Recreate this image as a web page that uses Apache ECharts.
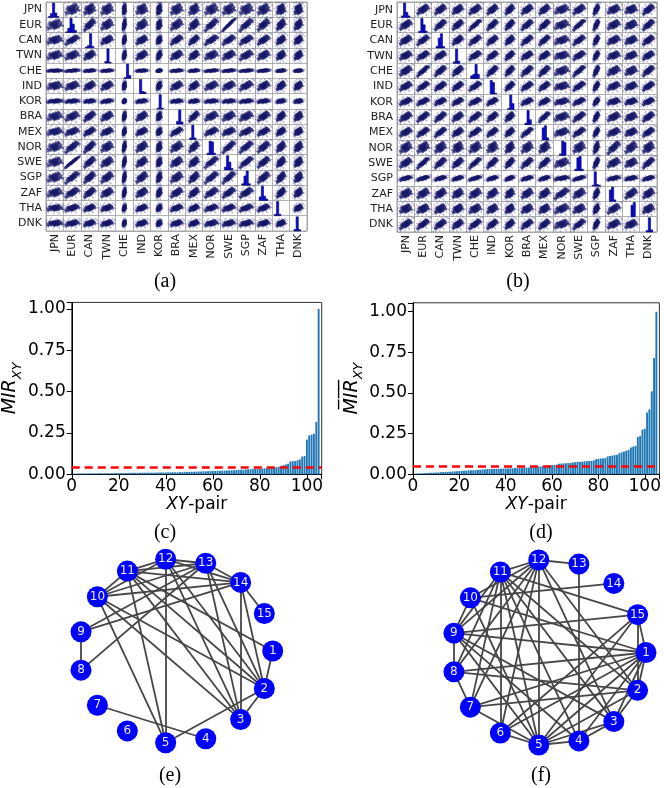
<!DOCTYPE html>
<html>
<head>
<meta charset="utf-8">
<script src="https://cdn.jsdelivr.net/npm/echarts@6/dist/echarts.min.js"></script>
<style>
  html, body { margin: 0; padding: 0; background: #fff; }
  #main { width: 664px; height: 788px; }
</style>
</head>
<body>
<div id="main"></div>
<script>
//1.数据
const countries = ['JPN', 'EUR', 'CAN', 'TWN', 'CHE', 'IND', 'KOR', 'BRA', 'MEX', 'NOR', 'SWE', 'SGP', 'ZAF', 'THA', 'DNK'];

// (a)(b) 每个变量的散布宽度 (单元格比例)
const spreadA = [0.23, 0.21, 0.17, 0.18, 0.045, 0.17, 0.07, 0.18, 0.15, 0.2, 0.19, 0.2, 0.18, 0.13, 0.12];
const spreadB = [0.18, 0.18, 0.17, 0.16, 0.18, 0.16, 0.13, 0.17, 0.16, 0.22, 0.18, 0.08, 0.19, 0.18, 0.17];

// 相关系数 (下三角, corr[r][c], c < r)
const corrA = [
  [],
  [0.1],
  [0.1, 0.55],
  [0.1, 0.2, 0.3],
  [0.0, 0.3, 0.2, 0.2],
  [0.0, 0.2, 0.3, 0.3, 0.1],
  [0.1, 0.1, 0.1, 0.3, 0.1, 0.2],
  [0.1, 0.3, 0.5, 0.3, 0.2, 0.3, 0.1],
  [0.1, 0.3, 0.5, 0.3, 0.2, 0.3, 0.1, 0.55],
  [0.1, 0.65, 0.6, 0.2, 0.3, 0.3, 0.1, 0.3, 0.4],
  [0.1, 0.98, 0.55, 0.3, 0.35, 0.3, 0.1, 0.3, 0.3, 0.7],
  [0.1, 0.7, 0.5, 0.4, 0.3, 0.4, 0.2, 0.3, 0.4, 0.65, 0.7],
  [0.1, 0.5, 0.5, 0.3, 0.3, 0.3, 0.2, 0.4, 0.4, 0.5, 0.55, 0.5],
  [0.0, 0.3, 0.3, 0.2, 0.2, 0.3, 0.2, 0.3, 0.3, 0.3, 0.3, 0.4, 0.4],
  [0.0, 0.2, 0.2, 0.2, 0.1, 0.2, 0.1, 0.2, 0.2, 0.2, 0.2, 0.2, 0.2, 0.2]
];
const corrB = [
  [],
  [0.4],
  [0.4, 0.6],
  [0.3, 0.5, 0.4],
  [0.4, 0.85, 0.6, 0.5],
  [0.4, 0.6, 0.5, 0.5, 0.6],
  [0.4, 0.5, 0.4, 0.5, 0.5, 0.5],
  [0.4, 0.6, 0.6, 0.4, 0.6, 0.5, 0.4],
  [0.4, 0.6, 0.65, 0.4, 0.6, 0.5, 0.4, 0.75],
  [0.2, 0.2, 0.2, 0.1, 0.2, 0.1, 0.2, 0.2, 0.2],
  [0.4, 0.85, 0.6, 0.5, 0.8, 0.6, 0.5, 0.6, 0.6, 0.2],
  [0.5, 0.6, 0.5, 0.5, 0.6, 0.5, 0.5, 0.5, 0.5, 0.3, 0.6],
  [0.2, 0.3, 0.3, 0.2, 0.3, 0.3, 0.2, 0.3, 0.3, 0.6, 0.3, 0.4],
  [0.1, 0.2, 0.2, 0.2, 0.2, 0.2, 0.2, 0.2, 0.2, 0.3, 0.2, 0.3, 0.4],
  [0.5, 0.6, 0.5, 0.4, 0.6, 0.5, 0.4, 0.5, 0.5, 0.2, 0.65, 0.5, 0.3, 0.2]
];

// 对角线直方图 (8 个 bin, 相对高度)
const histA = [
  [0, 0.05, 0.25, 1.0, 0.3, 0.05, 0, 0],
  [0, 0.05, 0.3, 1.0, 0.6, 0.15, 0, 0],
  [0, 0, 0.05, 0.15, 1.0, 0.1, 0, 0],
  [0, 0, 0, 0.1, 1.0, 0.05, 0, 0],
  [0, 0, 0, 0, 0.05, 1.0, 0.2, 0],
  [0, 0, 0, 1.0, 0.15, 0.1, 0, 0],
  [0, 0, 0, 0.05, 1.0, 0.05, 0, 0],
  [0, 0, 0, 0, 0.2, 1.0, 0.15, 0],
  [0, 0, 0.1, 1.0, 0.1, 0, 0, 0],
  [0, 0, 0.1, 0.95, 0.9, 0.1, 0, 0],
  [0, 0, 0.2, 1.0, 0.55, 0.1, 0, 0],
  [0, 0, 0.1, 0.65, 1.0, 0.1, 0, 0],
  [0, 0, 0.25, 1.0, 0.3, 0.1, 0, 0],
  [0, 0.1, 1.0, 0.1, 0, 0, 0, 0],
  [0, 0, 0.1, 1.0, 0.1, 0, 0, 0]
];
const histB = [
  [0, 0, 0.1, 1.0, 0.35, 0.1, 0, 0],
  [0, 0, 0.1, 1.0, 0.55, 0.1, 0, 0],
  [0, 0, 0.1, 0.7, 1.0, 0.1, 0, 0],
  [0, 0, 0.1, 1.0, 0.15, 0, 0, 0],
  [0, 0, 0.2, 0.3, 1.0, 0.3, 0, 0],
  [0, 0, 0, 0.95, 0.8, 0.05, 0, 0],
  [0, 0, 0, 0.05, 1.0, 0.4, 0, 0],
  [0, 0, 0, 0.1, 1.0, 0.35, 0, 0],
  [0, 0, 0, 0.85, 1.0, 0.15, 0, 0],
  [0, 0, 0, 0.1, 1.0, 0.9, 0, 0],
  [0, 0, 0.1, 0.9, 1.0, 0.1, 0, 0],
  [0, 0, 0.05, 1.0, 0.1, 0.05, 0, 0],
  [0, 0, 0.8, 1.0, 0.1, 0, 0, 0],
  [0, 0, 0, 0, 0.8, 1.0, 0, 0],
  [0, 0, 0, 0.1, 1.0, 0.15, 0, 0]
];

// 单元格内点云模板 (标准化坐标), 前 48 个为核心点, 后 16 个为外围点
const cloud = [
  [0.12, -0.35], [-0.48, 0.22], [0.83, 0.41], [-1.12, -0.27], [0.35, 0.91], [-0.21, -0.88], [1.34, -0.15], [-0.67, 0.64],
  [0.05, 0.07], [0.58, -0.62], [-0.92, -1.05], [0.27, 1.38], [-1.45, 0.33], [1.02, 0.86], [-0.33, -0.41], [0.71, 0.18],
  [-0.08, -1.27], [1.63, 0.52], [-0.76, -0.14], [0.44, -1.02], [-1.21, 0.95], [0.19, 0.49], [-0.55, -0.69], [0.96, -0.84],
  [-0.14, 0.31], [1.18, 1.21], [-1.8, -0.58], [0.63, -0.29], [-0.39, 1.07], [0.31, -0.18], [-0.99, 0.12], [1.9, -0.44],
  [-0.26, 0.68], [0.87, 1.56], [-1.58, -1.22], [0.02, -0.57], [1.47, 0.11], [-0.64, 0.39], [0.39, 0.72], [-0.17, -0.06],
  [0.52, 0.04], [-0.41, -0.12], [0.15, -0.78], [-0.86, 0.51], [1.11, -0.48], [-0.02, 0.95], [0.74, 1.02], [-1.29, -0.74],
  [2.3, 1.7], [-2.2, 0.8], [0.9, -2.1], [-1.1, 2.2], [2.7, -0.6], [-2.5, -1.5], [0.4, 2.6], [-0.3, -2.5],
  [1.8, 2.3], [-2.8, 0.2], [2.0, -1.5], [-1.6, -2.2], [2.9, 1.0], [-2.0, 1.9], [1.2, -2.7], [-0.8, 2.8]
];

// (c)(d) 排序后的 MIR 值
const mirC = [
  0.003, 0.003, 0.004, 0.004, 0.004, 0.005, 0.005, 0.005, 0.005, 0.005,
  0.005, 0.006, 0.006, 0.006, 0.006, 0.006, 0.006, 0.007, 0.007, 0.007,
  0.007, 0.007, 0.008, 0.008, 0.009, 0.009, 0.009, 0.009, 0.009, 0.010,
  0.010, 0.010, 0.010, 0.010, 0.010, 0.011, 0.011, 0.011, 0.011, 0.011,
  0.012, 0.012, 0.012, 0.012, 0.012, 0.013, 0.013, 0.014, 0.014, 0.015,
  0.015, 0.016, 0.016, 0.017, 0.017, 0.018, 0.018, 0.019, 0.019, 0.020,
  0.020, 0.021, 0.021, 0.022, 0.022, 0.023, 0.024, 0.025, 0.025, 0.026,
  0.027, 0.028, 0.028, 0.029, 0.030, 0.031, 0.032, 0.033, 0.033, 0.034,
  0.035, 0.036, 0.037, 0.038, 0.040, 0.041, 0.043, 0.045, 0.050, 0.055,
  0.060, 0.064, 0.078, 0.079, 0.080, 0.085, 0.090, 0.107, 0.110, 0.210,
  0.235, 0.240, 0.245, 0.317, 1.000
];
const mirD = [
  0.003, 0.004, 0.005, 0.006, 0.007, 0.008, 0.009, 0.010, 0.010, 0.011,
  0.012, 0.013, 0.014, 0.014, 0.015, 0.016, 0.017, 0.018, 0.019, 0.020,
  0.021, 0.022, 0.023, 0.024, 0.025, 0.025, 0.026, 0.027, 0.028, 0.030,
  0.031, 0.032, 0.032, 0.033, 0.033, 0.034, 0.034, 0.035, 0.035, 0.036,
  0.036, 0.037, 0.037, 0.038, 0.038, 0.039, 0.040, 0.041, 0.041, 0.042,
  0.045, 0.046, 0.046, 0.047, 0.048, 0.050, 0.052, 0.053, 0.055, 0.056,
  0.057, 0.060, 0.065, 0.066, 0.067, 0.068, 0.069, 0.070, 0.072, 0.075,
  0.076, 0.077, 0.078, 0.080, 0.081, 0.082, 0.083, 0.085, 0.093, 0.095,
  0.097, 0.098, 0.100, 0.110, 0.113, 0.115, 0.118, 0.120, 0.130, 0.135,
  0.140, 0.145, 0.150, 0.165, 0.170, 0.175, 0.230, 0.235, 0.275, 0.280,
  0.380, 0.400, 0.510, 0.715, 1.000
];
const thresholdC = 0.036;
const thresholdD = 0.047;

// (e)(f) 网络
const nodeLabels = ['1', '2', '3', '4', '5', '6', '7', '8', '9', '10', '11', '12', '13', '14', '15'];
const edgesE = [
  [12, 13], [11, 12], [5, 12], [10, 12], [2, 12], [3, 12], [12, 14],
  [11, 13], [10, 13], [9, 13], [8, 13], [13, 14], [2, 13], [3, 13],
  [11, 14], [10, 11], [5, 11], [2, 11], [3, 11], [1, 11],
  [10, 14], [5, 10], [2, 10], [3, 10],
  [9, 14], [8, 9], [2, 14], [14, 15], [3, 14],
  [4, 7], [2, 5], [2, 3], [1, 2]
];
const edgesF = [
  [12, 13], [11, 12], [5, 12], [9, 12], [8, 12], [7, 12], [6, 12], [10, 12], [2, 12], [3, 12],
  [4, 13], [10, 14],
  [11, 15], [9, 15], [1, 15], [2, 15], [5, 15], [6, 15],
  [1, 9], [1, 7], [1, 6], [1, 5], [1, 4], [1, 3], [1, 2], [1, 10], [1, 8],
  [2, 8], [2, 7], [2, 5], [2, 3], [2, 11],
  [3, 4], [3, 5], [3, 9], [3, 11],
  [4, 5], [4, 11], [4, 9],
  [5, 6], [5, 7], [5, 9], [5, 10], [5, 11],
  [6, 11], [7, 8], [7, 11], [8, 9], [8, 11], [9, 10], [9, 11]
];

//2.生成散点矩阵的点
function matrixPoints(spread, corr, core) {
  const pts = [];
  const clamp = (v, lo) => Math.min(lo + 0.96, Math.max(lo + 0.04, v));
  const part = core ? cloud.slice(0, 48) : cloud.slice(48);
  for (let r = 0; r < 15; r++) {
    for (let c = 0; c < 15; c++) {
      if (r === c) continue;
      const rho = r > c ? corr[r][c] : corr[c][r];
      const s = Math.sqrt(1 - rho * rho);
      part.forEach(([u, v]) => {
        pts.push([
          clamp(c + 0.5 + spread[c] * u, c),
          clamp(r + 0.5 - spread[r] * (rho * u + s * v), r)
        ]);
      });
    }
  }
  return pts;
}

function histItems(hist) {
  const items = [];
  hist.forEach((bins, k) => bins.forEach((h, b) => { if (h > 0) items.push([k, b, h]); }));
  return items;
}

function renderHist(params, api) {
  const k = api.value(0), b = api.value(1), h = api.value(2);
  const nb = 8;
  const p0 = api.coord([k + b / nb, k + 1]);
  const p1 = api.coord([k + (b + 1) / nb, k + 1 - 0.93 * h]);
  return {
    type: 'rect',
    shape: { x: p0[0], y: p1[1], width: p1[0] - p0[0], height: p0[1] - p1[1] },
    style: { fill: '#0a0af0', stroke: '#000050', lineWidth: 0.6 }
  };
}

function circleNodes() {
  return nodeLabels.map((n, i) => ({
    name: n,
    value: [Math.cos(2 * Math.PI * i / nodeLabels.length), Math.sin(2 * Math.PI * i / nodeLabels.length)]
  }));
}

//3.坐标轴
const gridLine = '#a0a0a0';
function cellAxes(gridIndex) {
  const base = {
    type: 'value', gridIndex, min: 0, max: 15, interval: 1,
    axisLine: { show: false }, axisTick: { show: false }, axisLabel: { show: false },
    splitLine: { show: true, lineStyle: { color: gridLine, width: 0.8 } }
  };
  return {
    x: [base, {
      type: 'category', gridIndex, data: countries, position: 'bottom',
      axisLine: { show: false }, axisTick: { show: false }, splitLine: { show: false },
      axisLabel: { rotate: 90, interval: 0, fontSize: 11, color: '#222', margin: 3 }
    }],
    y: [Object.assign({}, base, { inverse: true, position: 'left' }), {
      type: 'category', gridIndex, data: countries, inverse: true, position: 'left',
      axisLine: { show: false }, axisTick: { show: false }, splitLine: { show: false },
      axisLabel: { interval: 0, fontSize: 11, color: '#222', margin: 4 }
    }]
  };
}

const tickFont = { fontSize: 17, color: '#000', fontFamily: 'DejaVu Sans' };
function barAxes(gridIndex, ymax, gap) {
  return {
    x: {
      type: 'value', gridIndex, min: 0, max: 106.3, interval: 20,
      axisLine: { lineStyle: { color: '#000', width: 1 } },
      axisTick: { length: 5, lineStyle: { color: '#000' } },
      axisLabel: Object.assign({ margin: 4, formatter: v => (v % 20 === 0 ? String(v) : '') }, tickFont),
      splitLine: { show: false },
      name: '{i|XY}-pair', nameLocation: 'middle', nameGap: 22,
      nameTextStyle: { fontSize: 17, color: '#000', rich: { i: { fontSize: 17, fontStyle: 'italic', color: '#000' } } }
    },
    y: {
      type: 'value', gridIndex, min: 0, max: ymax, interval: 0.25,
      axisLine: { show: true, lineStyle: { color: '#000', width: 1 } },
      axisTick: { show: true, length: 5, lineStyle: { color: '#000' } },
      axisLabel: Object.assign({ margin: 6, formatter: v => (Math.abs(v * 4 - Math.round(v * 4)) < 1e-6 ? v.toFixed(2) : '') }, tickFont),
      splitLine: { show: false },
      name: '{m|M\u0305I\u0305R\u0305}{s|XY}', nameLocation: 'middle', nameGap: gap, nameRotate: 90,
      nameTextStyle: {
        color: '#000',
        rich: {
          m: { fontSize: 19, fontStyle: 'italic', color: '#000', lineHeight: 24, verticalAlign: 'bottom' },
          s: { fontSize: 13, fontStyle: 'italic', color: '#000', lineHeight: 24, verticalAlign: 'bottom', padding: [0, 0, -4, 0] }
        }
      }
    }
  };
}

function hiddenAxis(gridIndex, inverse) {
  return { type: 'value', gridIndex, min: -1.1, max: 1.1, show: false, inverse: !!inverse };
}

const axA = cellAxes(0), axB = cellAxes(1);
const axC = barAxes(2, 1.04, 40), axD = barAxes(3, 1.055, 47);

function scatterSeries(idx, spread, corr, core) {
  return {
    type: 'scatter', xAxisIndex: idx, yAxisIndex: idx, data: matrixPoints(spread, corr, core),
    symbolSize: core ? 2.8 : 1.7, silent: true,
    itemStyle: { color: core ? 'rgba(24,24,105,0.8)' : 'rgba(60,60,150,0.45)' }
  };
}

function barSeries(idx, values, threshold) {
  return {
    type: 'bar', xAxisIndex: idx, yAxisIndex: idx,
    data: values.map((v, i) => [i + 1, v]),
    barWidth: 1.9,
    itemStyle: { color: '#1f77b4' },
    markLine: {
      silent: true, symbol: 'none', label: { show: false },
      lineStyle: { color: '#ff0000', width: 2.5, type: [8, 5] },
      data: [{ yAxis: threshold }]
    }
  };
}

function graphSeries(idx, edges) {
  return {
    type: 'graph', coordinateSystem: 'cartesian2d', xAxisIndex: idx, yAxisIndex: idx,
    layout: 'none', symbolSize: 21,
    data: circleNodes(),
    links: edges.map(([s, t]) => ({ source: String(s), target: String(t) })),
    itemStyle: { color: '#0000ff' },
    label: { show: true, position: 'inside', color: '#ececff', fontSize: 12, fontFamily: 'DejaVu Sans' },
    lineStyle: { color: '#464646', width: 1.8, opacity: 1, curveness: 0 },
    emphasis: { disabled: true }
  };
}

function caption(text, x, y) {
  return {
    type: 'text', x, y,
    style: { text, fontSize: 20, fontFamily: 'Liberation Serif', fill: '#000', align: 'center', verticalAlign: 'middle' }
  };
}

//4.渲染
const chart = echarts.init(document.getElementById('main'));
const option = {
  animation: false,
  backgroundColor: '#fff',
  textStyle: { fontFamily: 'DejaVu Sans' },
  grid: [
    { left: 46, top: 2, width: 261, height: 229, show: true, borderColor: gridLine, borderWidth: 1 },
    { left: 397, top: 2, width: 260, height: 230, show: true, borderColor: gridLine, borderWidth: 1 },
    { left: 71.7, top: 302.4, width: 250, height: 171.9, show: true, borderColor: '#333', borderWidth: 1 },
    { left: 413, top: 302.8, width: 248.7, height: 171.5, show: true, borderColor: '#333', borderWidth: 1 },
    { left: 69.2, top: 549.5, width: 213.2, height: 203 },
    { left: 442.1, top: 550.2, width: 213.6, height: 204.6 }
  ],
  xAxis: [axA.x[0], axA.x[1], axB.x[0], axB.x[1], axC.x, axD.x, hiddenAxis(4), hiddenAxis(5)],
  yAxis: [axA.y[0], axA.y[1], axB.y[0], axB.y[1], axC.y, axD.y, hiddenAxis(4, true), hiddenAxis(5, true)],
  series: [
    scatterSeries(0, spreadA, corrA, false),
    scatterSeries(0, spreadA, corrA, true),
    { type: 'custom', xAxisIndex: 0, yAxisIndex: 0, data: histItems(histA), renderItem: renderHist, silent: true },
    scatterSeries(2, spreadB, corrB, false),
    scatterSeries(2, spreadB, corrB, true),
    { type: 'custom', xAxisIndex: 2, yAxisIndex: 2, data: histItems(histB), renderItem: renderHist, silent: true },
    barSeries(4, mirC, thresholdC),
    barSeries(5, mirD, thresholdD),
    graphSeries(6, edgesE),
    graphSeries(7, edgesF)
  ],
  graphic: [
    caption('(a)', 165, 282),
    caption('(b)', 518, 282),
    caption('(c)', 165, 533),
    caption('(d)', 541, 533),
    caption('(e)', 170, 776),
    caption('(f)', 541, 776)
  ]
};
option && chart.setOption(option);
</script>
</body>
</html>
